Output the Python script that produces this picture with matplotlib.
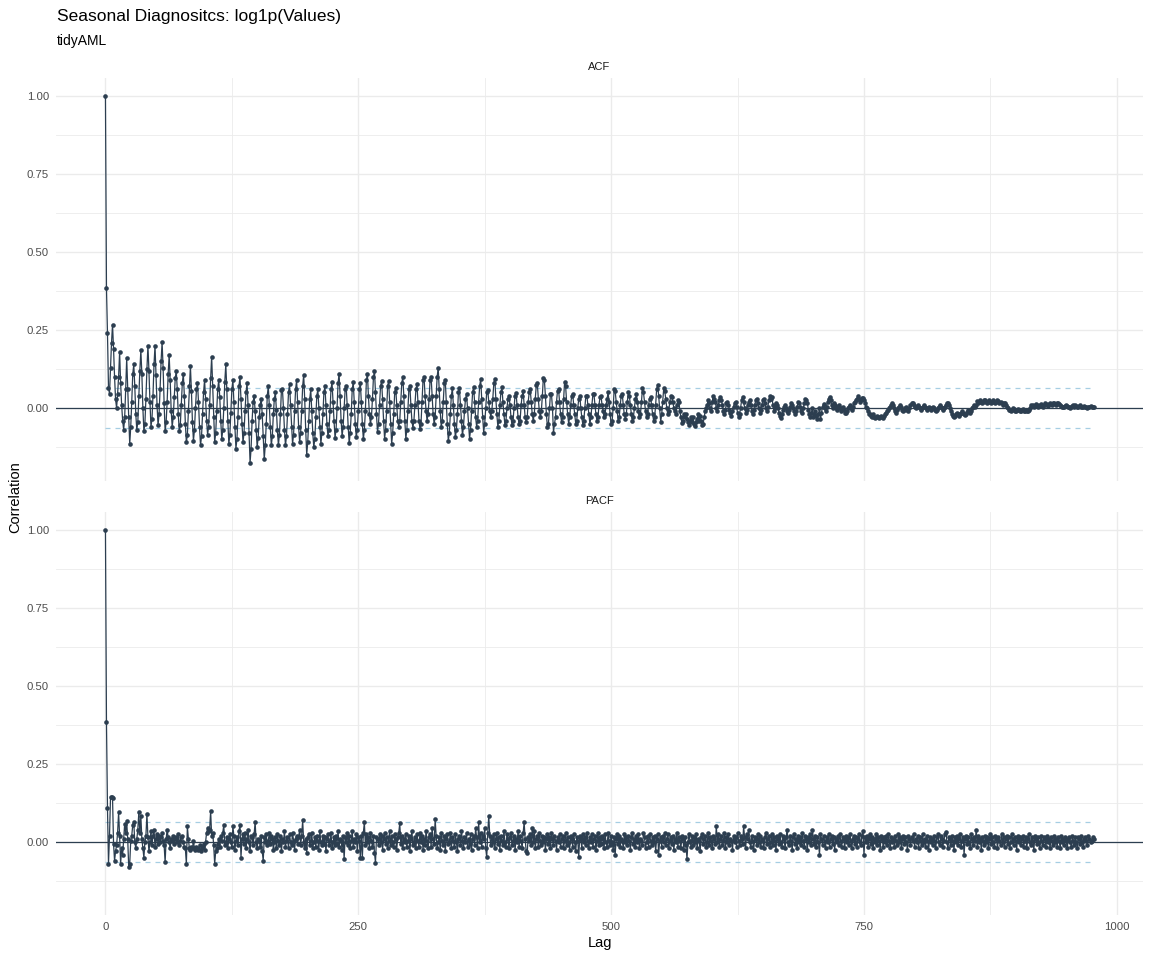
import numpy as np
import matplotlib
matplotlib.use("Agg")
from matplotlib import pyplot as plt
from matplotlib.ticker import MultipleLocator

plt.rcParams["font.family"] = ["Liberation Sans", "DejaVu Sans"]

# ACF values by lag (0..977), in thousandths
acf_milli = [
    1000, 385, 240, 65, 45, 130, 210,
    268, 190, 100, 28, 0, 45, 100,
    180, 80, 10, -40, -70, -30, 60,
    160, 60, -30, -115, -60, 20, 110,
    140, 70, -20, -70, -45, 40, 120,
    185, 110, 0, -75, -50, 30, 125,
    200, 120, 20, -60, -35, 40, 140,
    200, 105, 10, -55, -20, 60, 150,
    212, 130, 15, -75, -45, 20, 110,
    170, 90, -10, -60, -30, 35, 95,
    120, 60, -20, -75, -55, 10, 80,
    110, 40, -50, -110, -85, -10, 70,
    135, 55, -45, -105, -70, 0, 60,
    80, 20, -60, -120, -90, -20, 50,
    90, 30, -40, -85, -60, 10, 95,
    165, 70, -30, -110, -80, -10, 60,
    90, 35, -40, -100, -70, 0, 85,
    140, 60, -40, -115, -85, -15, 60,
    90, 20, -60, -130, -100, -30, 70,
    100, 30, -50, -110, -80, -10, 50,
    80, 10, -80, -175, -130, -40, 20,
    40, -10, -70, -125, -95, -30, 10,
    30, -20, -90, -165, -120, -50, 40,
    70, 10, -60, -120, -90, -20, 30,
    50, -5, -70, -120, -85, -20, 58,
    60, 0, -70, -120, -90, -20, 50,
    76, 10, -60, -115, -85, -10, 60,
    89, 20, -60, -110, -80, -10, 70,
    107, 30, -70, -150, -110, -40, 30,
    60, -10, -80, -125, -100, -30, 40,
    60, 0, -60, -115, -80, -20, 50,
    70, 10, -50, -90, -70, -10, 60,
    83, 20, -40, -95, -70, 0, 80,
    110, 40, -40, -90, -60, 0, 60,
    70, 10, -60, -113, -80, -20, 60,
    83, 20, -50, -94, -70, -10, 60,
    82, 20, -50, -100, -70, -10, 90,
    110, 40, -20, -50, -30, 30, 100,
    120, 50, -20, -78, -50, 10, 70,
    87, 30, -40, -98, -70, -10, 70,
    87, 20, -50, -115, -80, -20, 50,
    63, 10, -40, -60, -40, 20, 80,
    100, 40, -40, -98, -70, -10, 60,
    70, 10, -40, -63, -40, 10, 60,
    77, 20, -40, -68, -50, 20, 90,
    100, 40, -10, -40, -20, 30, 90,
    100, 40, -20, -50, -30, 40, 100,
    130, 60, -10, -60, -40, 20, 80,
    90, 20, -50, -105, -80, -20, 40,
    63, 10, -50, -94, -70, -20, 50,
    63, 10, -40, -88, -60, -10, 30,
    45, 0, -50, -98, -70, -10, 50,
    68, 20, -30, -60, -40, 20, 70,
    94, 30, -30, -79, -50, 0, 50,
    58, 20, -10, -28, -10, 30, 80,
    93, 30, -20, -60, -40, 10, 50,
    67, 20, -20, -55, -40, 0, 30,
    40, 10, -30, -55, -40, 0, 40,
    47, 10, -30, -50, -40, 10, 40,
    55, 10, -30, -46, -30, 20, 50,
    60, 20, -20, -40, -20, 30, 74,
    80, 30, -10, -30, -10, 40, 98,
    90, 40, -20, -60, -50, 0, 45,
    45, 0, -80, -50, -30, 20, 56,
    60, 20, -20, -45, -30, 30, 85,
    70, 20, -20, -50, -30, 10, 40,
    44, 10, -20, -50, -40, 0, 30,
    40, 0, -30, -53, -40, 0, 40,
    40, 10, -20, -50, -30, 10, 45,
    45, 10, -20, -40, -30, 10, 35,
    40, 10, -10, -30, -20, 10, 30,
    50, 20, -20, -52, -40, 0, 60,
    55, 20, -10, -40, -30, 10, 40,
    45, 10, -20, -35, -20, 20, 50,
    40, 10, -20, -40, -30, 0, 30,
    45, 20, -10, -30, -20, 20, 65,
    50, 20, -10, -30, -20, 10, 30,
    35, 10, -20, -40, -30, 10, 60,
    74, 40, 0, -44, -20, 20, 63,
    55, 30, 0, -20, -10, 20, 40,
    35, 20, 0, -10, -20, 10, 26,
    20, -10, -30, -49, -40, -20, -30,
    -20, -35, -45, -54, -40, -30, -45,
    -30, -50, -59, -45, -35, -20, -40,
    -25, -40, -55, -50, -30, -10, 0,
    10, 26, 15, 0, -10, 20, 40,
    30, 20, 0, -10, 10, 25, 35,
    25, 10, -10, -20, -5, 15, 20,
    10, -5, -15, -25, -10, 5, 15,
    20, 5, -15, -30, -20, 0, 25,
    36, 20, 0, -15, -5, 10, 20,
    25, 10, -10, -20, -5, 10, 25,
    30, 15, 0, -15, -5, 10, 25,
    30, 15, 0, -10, 5, 25, 40,
    30, 35, 10, -10, 0, 15, 10,
    0, -15, -25, -33, -20, -5, 5,
    10, 0, -10, -15, -5, 5, 15,
    10, 0, -10, -20, -10, 5, 20,
    15, 5, -10, -15, 0, 15, 30,
    27, 15, -5, -20, -30, -15, 0,
    -30, -20, -10, -25, -36, -20, 0,
    -36, -15, 5, 13, 0, -10, 5,
    20, 30, 35, 25, 10, 0, 15,
    10, 0, -5, 5, 10, 0, -10,
    0, 5, -5, -15, -17, -10, 0,
    5, 10, 0, -5, 5, 15, 20,
    25, 30, 38, 30, 20, 25, 31,
    31, 25, 15, 5, 0, -10, -19,
    -19, -25, -30, -20, -28, -33, -30,
    -25, -30, -33, -28, -25, -30, -33,
    -25, -20, -15, -10, -5, 0, 5,
    10, 17, 10, 0, -10, -15, -5,
    0, 5, 10, 5, -5, -10, -5,
    0, 5, -5, -10, 0, 10, 15,
    17, 10, 5, 0, 5, 10, 5,
    0, -5, 0, 5, 10, 5, 0,
    -5, 0, 5, 0, -5, 0, 5,
    0, -5, -10, -5, 0, 5, 10,
    5, 0, -5, 0, 5, 10, 15,
    17, 10, 0, -10, -20, -25, -28,
    -25, -20, -15, -20, -25, -20, -15,
    -10, -15, -20, -22, -18, -12, -5,
    -10, -15, -10, 0, 5, 10, 5,
    10, 22, 15, 20, 25, 20, 15,
    20, 27, 25, 20, 15, 20, 25,
    20, 15, 20, 25, 20, 15, 20,
    27, 22, 15, 20, 15, 10, 15,
    16, 10, 5, 0, -6, -5, -8,
    -5, 0, -3, -8, -10, -5, -2,
    -5, -8, -10, -6, -3, -8, -10,
    -5, -8, -10, -5, 0, 10, 8,
    10, 5, 8, 12, 10, 5, 8,
    10, 12, 8, 5, 10, 15, 12,
    10, 8, 12, 15, 12, 10, 17,
    15, 12, 10, 15, 17, 12, 10,
    8, 5, 3, 5, 8, 10, 8,
    5, 3, 0, 5, 8, 10, 5,
    10, 8, 5, 3, 8, 10, 5,
    3, 5, 8, 5, 2, 0, 3,
    5, 8, 5, 3, 5,
]

# PACF values by lag (0..977), in thousandths
pacf_milli = [
    1000, 385, 110, -70, 20, 143, 145, 140, -5, -60,
    -30, -10, 30, 95, 20, -70, -20, -40, 10, 58,
    30, 66, 10, -80, -70, 5, 20, 56, 63, 0,
    -20, 10, 40, 95, 30, 83, 10, -20, -50, 0,
    20, 90, 15, -30, 0, 35, -10, 20, 40, -15,
    10, 25, -5, 20, 0, 15, 30, 5, -10, -65,
    10, 40, 15, 0, -20, 10, 5, 20, -5, 10,
    15, 0, 25, -10, 5, 15, 20, 0, -15, -20,
    -70, 50, 10, -20, -25, -15, -20, 5, -20, -25,
    -15, -20, -25, -10, -30, -20, -15, -5, -25, 0,
    30, 45, 35, 40, 100, 20, 30, -10, -70, -30,
    -20, -5, 10, -15, 20, 5, 30, 55, -10, 0,
    15, -20, 10, 25, 0, -15, 50, 20, -25, 5,
    15, -10, 35, 55, -50, 10, 25, -5, 30, -20,
    10, 40, 0, -30, 20, 15, -10, 25, 65, 0,
    -20, 10, 5, -15, 20, -30, -60, 15, 0, 25,
    -10, 5, 30, -5, 20, 10, -25, 0, 15, -20,
    25, 5, -10, 20, -30, 10, 0, 35, -15, 5,
    15, -20, 25, 0, -10, 30, 5, -25, 10, 20,
    -5, 15, 40, -10, 20, 70, 0, -20, 10, -35,
    15, 25, -10, 5, 30, -20, 0, 15, -15, 20,
    5, -25, 35, 0, -10, 20, -5, 15, -30, 10,
    25, -10, 5, 30, -20, 0, 15, -10, 20, -5,
    35, -15, 10, 5, -25, 20, -55, 15, 0, 30,
    -10, 20, -20, 5, 35, -15, 10, 0, 25, -30,
    15, 5, -50, 20, -50, 30, 63, -10, 25, 0,
    15, -20, 30, 5, -15, 20, -35, -66, 15, 10,
    -10, 25, 0, 20, -25, 10, 30, -5, 15, -20,
    5, 35, -10, 20, 0, -15, 25, 10, -25, 15,
    30, 60, -5, 20, -20, 10, 0, 25, -15, 5,
    20, -30, 10, 35, -10, 0, 15, -20, 25, 5,
    -15, 30, 0, 20, -25, 10, -10, 35, 5, -20,
    15, 25, -15, 45, 10, -5, 74, 20, -20, 0,
    15, -25, 30, 5, -10, 20, -30, 10, 25, -5,
    0, 30, -20, 15, 5, -15, 25, 0, -30, 10,
    20, -10, 35, 5, -20, 15, 0, 30, -15, 10,
    -5, 25, -25, 10, 20, -10, 45, 15, -20, 63,
    0, 30, -15, 20, 10, 45, -20, -48, 30, 84,
    20, -10, 15, 0, 25, -20, 10, 30, -5, 15,
    -25, 20, 5, -10, 35, 0, -15, 25, 10, -20,
    15, 30, -10, 5, 20, -25, 10, 0, 35, -15,
    20, 5, -20, 30, 63, 10, -30, -35, 15, 5,
    25, -10, 45, 0, 35, -20, 10, 20, -15, 30,
    5, -10, 20, 0, 15, -25, 10, 25, -5, 15,
    -20, 30, 10, -10, 20, 5, -25, 15, 0, 25,
    -15, 10, 20, -20, 5, 30, -10, 15, 0, -25,
    20, 10, -15, 25, 0, -30, 15, 5, -47, 20,
    10, -20, 25, 0, 15, -10, 30, 5, -20, 15,
    0, 25, -15, 10, 20, -25, 5, 30, -10, 15,
    -5, 20, 10, -20, 25, 0, -15, 30, 5, -10,
    20, 0, -25, 15, -40, 10, 25, -5, 20, -15,
    10, 5, -20, 25, 0, 15, -10, 20, 5, -25,
    15, 30, -5, 10, -15, 20, 0, 25, -20, 10,
    5, -10, 30, 15, -20, 0, 20, -15, 25, 5,
    -10, 15, 0, 20, -30, 10, 25, -40, 5, 15,
    -15, 20, 0, 30, -10, 10, 25, -20, 5, 15,
    -5, 20, -25, 10, 0, 30, -15, 15, 5, -20,
    20, 10, -25, 15, -10, -54, 0, 25, 5, -15,
    20, -10, 15, 0, 25, -20, 10, 5, -30, 15,
    25, -5, 10, 20, -15, 0, 30, -10, 15, 5,
    -20, 20, 10, -5, 50, 0, 25, -15, 10, 20,
    -10, 5, 30, -20, 15, 0, 25, -10, 10, 5,
    -25, 20, 0, 15, -15, 30, 5, -10, 20, 10,
    -5, 50, 15, -20, 25, 10, 40, 0, -15, 20,
    5, -25, 15, 10, -10, 25, 0, 20, -15, 10,
    5, -20, 15, 30, -5, 10, 20, -15, 0, 25,
    -10, 15, 5, -25, 20, 10, -5, 25, 0, -15,
    20, 10, -20, 15, 40, 0, -10, 20, 5, -25,
    15, 25, -5, 10, -20, 20, 0, 15, -10, 30,
    5, -15, 20, 10, -25, 15, 0, 25, -10, 40,
    10, -5, 20, -15, 15, 0, -40, 25, 10, -10,
    20, 5, -20, 15, 0, 25, -15, 10, 20, -5,
    15, -25, 10, 0, 20, -10, 25, 5, -15, 15,
    10, -20, 20, 0, 15, -10, 25, 5, -20, 10,
    20, -5, 15, -15, 10, 25, 0, -10, 20, 35,
    -40, 15, 0, 20, -15, 10, 25, -5, 15, -20,
    10, 0, 25, -10, 15, 5, -25, 20, 10, -15,
    15, 0, 20, -10, 25, 5, -20, 15, 0, 10,
    -15, 20, 5, -10, 25, 0, 15, -20, 10, 20,
    -5, 15, 0, -25, 20, 10, -10, 15, 5, 25,
    -15, 10, 0, 20, -20, 15, 5, -10, 25, 0,
    10, -15, 20, 5, -25, 15, 0, 10, -10, 20,
    5, -20, 15, 25, 0, -10, 20, 10, -15, 5,
    25, 33, 0, -20, 15, 10, -10, 20, 5, -25,
    15, 0, 20, -10, 10, 25, -15, 5, 15, -40,
    10, 20, -5, 15, 0, -20, 25, 10, -10, 15,
    5, 40, -15, 20, 0, 10, -25, 15, 5, -10,
    20, 0, 15, -20, 10, 25, -5, 15, 0, -15,
    20, 10, -20, 15, 5, -10, 25, 0, 15, -15,
    10, 20, -5, 15, -20, 0, 25, 10, -10, 15,
    5, -25, 20, 0, 15, -10, 10, 20, -15, 5,
    15, -20, 10, 25, 0, -10, 15, 5, -25, 20,
    10, -5, 15, 0, -20, 20, 5, -10, 15, 10,
    -15, 20, 0, 10, -20, 15, 5, -10, 20, 0,
    10, -15, 15, 5, -20, 20, 0, 10, -10, 15,
    5, -20, 10, 15, 0, -15, 20, 5, -10, 15,
    0, -20, 15, 10, -5, 20, 0, -15, 10, 15,
    5, -10, 20, 10, 0, 5, 15, 10,
]

white_noise = 0.063  # dashed significance bound
panel_names = ["ACF", "PACF"]

acf = np.array(acf_milli) / 1000
pacf = np.array(pacf_milli) / 1000
lags = np.arange(len(acf))

line_col = "#2C3E50"
band_col = "#A6CEE3"
grid_col = "#EBEBEB"

W, H = 1152, 960
fig = plt.figure(figsize=(W / 100, H / 100), dpi=100)

# panel boxes in pixels: left, top, right, bottom
boxes = [(56, 78, 1143, 481), (56, 512, 1143, 915)]
ymin, ymax = -0.234, 1.059
xmin, xmax = -48.9, 1025.9

for i, (name, vals) in enumerate(zip(panel_names, [acf, pacf])):
    l, t, r, b = boxes[i]
    ax = fig.add_axes([l / W, 1 - b / H, (r - l) / W, (b - t) / H])
    ax.set_xlim(xmin, xmax)
    ax.set_ylim(ymin, ymax)
    for s in ax.spines.values():
        s.set_visible(False)
    ax.xaxis.set_major_locator(MultipleLocator(250))
    ax.xaxis.set_minor_locator(MultipleLocator(125))
    ax.yaxis.set_major_locator(MultipleLocator(0.25))
    ax.yaxis.set_minor_locator(MultipleLocator(0.125))
    ax.grid(which="major", color=grid_col, lw=1.0)
    ax.grid(which="minor", color=grid_col, lw=0.6)
    ax.set_axisbelow(True)
    ax.tick_params(which="both", length=0, labelsize=8.2, labelcolor="#4D4D4D", pad=5)
    ax.set_yticks([0, 0.25, 0.5, 0.75, 1.0])
    ax.set_yticklabels(["0.00", "0.25", "0.50", "0.75", "1.00"])
    if i == 0:
        ax.set_xticklabels([])
    else:
        ax.set_xticks([0, 250, 500, 750, 1000])
        ax.set_xticklabels(["0", "250", "500", "750", "1000"])

    ax.axhline(0, color=line_col, lw=0.9, zorder=2)
    ax.plot(lags, np.full(len(lags), white_noise), color=band_col, lw=0.9,
            ls=(0, (4, 4)), zorder=2)
    ax.plot(lags, np.full(len(lags), -white_noise), color=band_col, lw=0.9,
            ls=(0, (4, 4)), zorder=2)
    ax.plot(lags, vals, color=line_col, lw=0.9, zorder=3)
    ax.scatter(lags, vals, color=line_col, s=11, lw=0, zorder=4)

    fig.text((l + r) / 2 / W, 1 - (t - 11) / H, name, ha="center", va="center",
             fontsize=8, color="#1A1A1A")

fig.text(57 / W, 1 - 17 / H, "Seasonal Diagnositcs: log1p(Values)", ha="left",
         va="center", fontsize=12.5, color="black")
fig.text(57 / W, 1 - 41 / H, "tidyAML", ha="left", va="center", fontsize=10,
         color="black")
fig.text(15 / W, 1 - 497 / H, "Correlation", rotation=90, ha="center",
         va="center", fontsize=10.5, color="black")
fig.text(600 / W, 1 - 943 / H, "Lag", ha="center", va="center", fontsize=10.5,
         color="black")

fig.savefig("out.png", dpi=100, facecolor="white")
